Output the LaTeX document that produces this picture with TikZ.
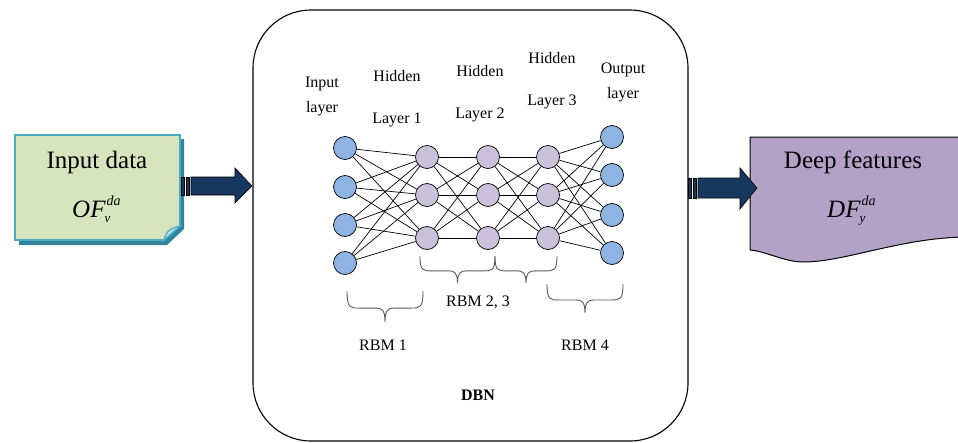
\documentclass[tikz,border=0pt]{standalone}
\usepackage{fontspec}
\setmainfont{Liberation Serif}

\definecolor{notefill}{HTML}{D7E4BD}
\definecolor{noteedge}{HTML}{4BACC6}
\definecolor{noteshadow}{HTML}{31859C}
\definecolor{notefold}{HTML}{B7DEE8}
\definecolor{arrowblue}{HTML}{17375E}
\definecolor{docfill}{HTML}{B3A2C7}
\definecolor{unitblue}{HTML}{8EB4E3}
\definecolor{unitpurple}{HTML}{CCC1DA}
\definecolor{bracegray}{HTML}{595959}

% variable with a superscript over a subscript
\newcommand{\featvar}[3]{\fontsize{25}{25}\selectfont\itshape #1%
  \makebox[0pt][l]{\kern-1pt\raisebox{-5pt}{\fontsize{13}{13}\selectfont\itshape #2}}%
  \kern1pt\raisebox{12pt}{\fontsize{14}{14}\selectfont\itshape #3}}

% downward curly brace: left x, right x, top y, height
\newcommand{\downbrace}[4]{%
  \pgfmathsetmacro{\bm}{(#1+#2)/2}%
  \pgfmathsetmacro{\bh}{#3+0.55*#4}%
  \pgfmathsetmacro{\bt}{#3+#4}%
  \draw[rbm] (#1,#3) .. controls (#1,\bh) and (#1+3,\bh) .. (#1+12,\bh)
    -- (\bm-9,\bh) .. controls (\bm-3,\bh) and (\bm,\bh+2) .. (\bm,\bt)
    (\bm,\bt) .. controls (\bm,\bh+2) and (\bm+3,\bh) .. (\bm+9,\bh)
    -- (#2-12,\bh) .. controls (#2-3,\bh) and (#2,\bh) .. (#2,#3);}

\begin{document}
\begin{tikzpicture}[x=1pt,y=-1pt,
  unit/.style={circle,draw=black,line width=0.7pt,minimum size=23pt,inner sep=0pt},
  inunit/.style={unit,fill=unitblue},
  hidunit/.style={unit,fill=unitpurple},
  link/.style={line width=0.7pt},
  lbl/.style={font=\fontsize{16}{19}\selectfont,align=center,inner sep=0pt},
  bigtxt/.style={font=\fontsize{25}{28}\selectfont,inner sep=0pt},
  rbm/.style={draw=bracegray,line width=0.9pt},
  bararrow/.style={fill=arrowblue,draw=black,line width=0.6pt}]

\useasboundingbox (0,0) rectangle (958,442);

% DBN frame
\draw[line width=1.1pt,rounded corners=58pt] (253,10) rectangle (688,441);
\node[font=\fontsize{16}{19}\selectfont\bfseries] (dbn) at (478,395) {DBN};

% Input data note with shadow and folded corner
\fill[noteshadow] (19,139) -- (184,139) -- (184,229) -- (167,245) -- (19,245) -- cycle;
\draw[noteedge,fill=notefill,line width=1.6pt]
  (15,135) -- (180,135) -- (180,226) -- (164,240) -- (15,240) -- cycle;
\draw[noteedge,fill=notefold,line width=1.2pt]
  (180,226) -- (164,240) .. controls (166,233) and (167,229) .. (180,226) -- cycle;
\node[bigtxt] (indata) at (97,162) {Input data};
\node[anchor=base west,inner sep=0pt] (ofvar) at (72,217) {\featvar{OF}{v}{da}};

% Deep features document shape
\draw[fill=docfill,line width=1pt]
  (750,137) -- (965,137) -- (965,237)
  .. controls (900,238) and (845,262) .. (803,262)
  .. controls (785,262) and (765,251) .. (750,250) -- cycle;
\node[bigtxt] (deep) at (853,162) {Deep features};
\node[anchor=base west,inner sep=0pt] (dfvar) at (827,217) {\featvar{DF}{y}{da}};

% Block arrows into and out of the frame
\draw[bararrow] (181,177) rectangle (184,195);
\draw[bararrow] (186,177) rectangle (189,195);
\draw[bararrow] (191,177) -- (235,177) -- (235,168) -- (252,186)
  -- (235,203) -- (235,195) -- (191,195) -- cycle;
\draw[bararrow] (688,178) rectangle (691,198);
\draw[bararrow] (693,178) rectangle (696,198);
\draw[bararrow] (698,178) -- (740,178) -- (740,168) -- (757,188)
  -- (740,209) -- (740,198) -- (698,198) -- cycle;

% Layer captions
\node[lbl] (capin)  at (322,96)  {Input\\[6pt]layer};
\node[lbl] (caph1)  at (397,99)  {Hidden\\[23pt]Layer 1};
\node[lbl] (caph2)  at (480,94)  {Hidden\\[23pt]Layer 2};
\node[lbl] (caph3)  at (552,81)  {Hidden\\[23pt]Layer 3};
\node[lbl] (capout) at (623,82)  {Output\\[6pt]layer};

% Units
\foreach \n/\y in {1/148,2/187,3/225,4/263} \node[inunit] (i\n) at (345,\y) {};
\foreach \n/\y in {1/157,2/195,3/238} {
  \node[hidunit] (a\n) at (427,\y) {};
  \node[hidunit] (b\n) at (488,\y) {};
  \node[hidunit] (c\n) at (548,\y) {};
}
\foreach \n/\y in {1/137,2/175,3/215,4/253} \node[inunit] (o\n) at (612,\y) {};

% Fully connected weights between neighbouring layers
\foreach \s in {1,...,4} \foreach \t in {1,2,3} \draw[link] (i\s) -- (a\t);
\foreach \s in {1,2,3} \foreach \t in {1,2,3} {
  \draw[link] (a\s) -- (b\t);
  \draw[link] (b\s) -- (c\t);
}
\foreach \s in {1,2,3} \foreach \t in {1,...,4} \draw[link] (c\s) -- (o\t);

% RBM braces
\downbrace{347}{423}{291}{31}
\downbrace{420}{495}{256}{27}
\downbrace{495}{557}{256}{27}
\downbrace{547}{623}{284}{29}
\node[lbl] (rbm1) at (383,345) {RBM 1};
\node[lbl] (rbm23) at (478,302) {RBM 2, 3};
\node[lbl] (rbm4) at (585,345) {RBM 4};
\end{tikzpicture}
\end{document}
